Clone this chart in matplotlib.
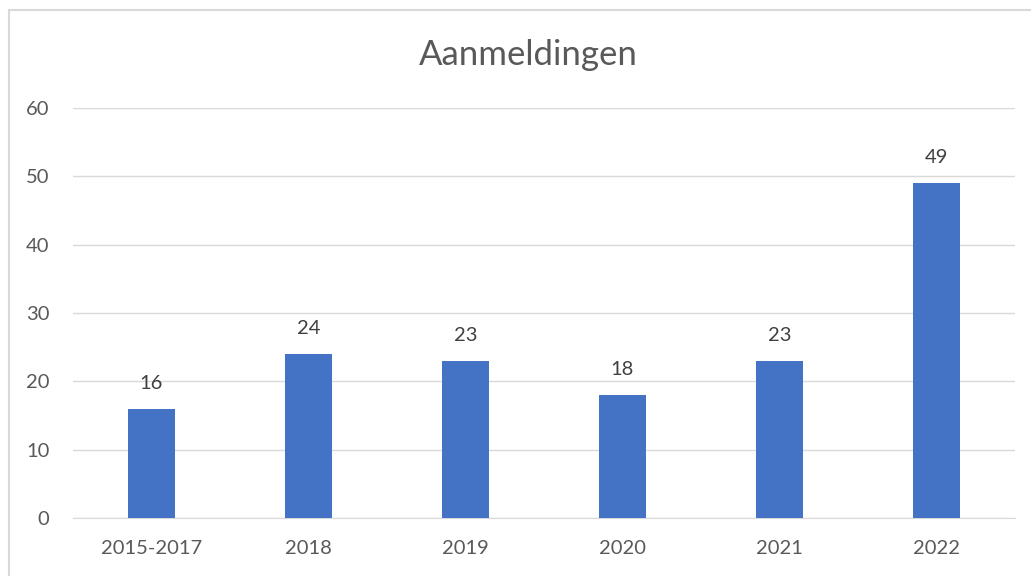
import matplotlib.pyplot as plt
from matplotlib.patches import Rectangle

categorieen = ['2015-2017', '2018', '2019', '2020', '2021', '2022']
aanmeldingen = [16, 24, 23, 18, 23, 49]
yticks = [0, 10, 20, 30, 40, 50, 60]

plt.rcParams['font.family'] = ['Lato', 'DejaVu Sans']
tekst = '#595959'

fig = plt.figure(figsize=(10.31, 5.76), dpi=100)
ax = fig.add_axes([0.0708, 0.1007, 0.9137, 0.7118])

x = range(len(categorieen))
bars = ax.bar(x, aanmeldingen, width=0.30, color='#4472C4', zorder=3)
for b, v in zip(bars, aanmeldingen):
    ax.annotate(str(v), (b.get_x() + b.get_width() / 2, v),
                xytext=(0, 12), textcoords='offset points',
                ha='center', va='bottom', fontsize=14.5, color='#404040')

ax.set_xlim(-0.5, len(categorieen) - 0.5)
ax.set_ylim(0, 60)
ax.set_yticks(yticks)
ax.set_xticks(list(x))
ax.set_xticklabels(categorieen)
ax.grid(axis='y', color='#D9D9D9', linewidth=1, zorder=0)
for s in ['top', 'right', 'left']:
    ax.spines[s].set_visible(False)
ax.spines['bottom'].set_color('#D9D9D9')
ax.tick_params(axis='both', length=0, labelsize=14.5, labelcolor=tekst)
ax.tick_params(axis='y', pad=17)
ax.tick_params(axis='x', pad=16)

fig.text(0.512, 0.904, 'Aanmeldingen', ha='center', va='center',
         fontsize=25, color=tekst)

fig.patches.append(Rectangle((9 / 1031, -0.1), 1.2, 1 - 10 / 576 + 0.1,
                             transform=fig.transFigure, fill=False,
                             edgecolor='#D9D9D9', linewidth=1.5))

fig.savefig('out.png', dpi=100)
